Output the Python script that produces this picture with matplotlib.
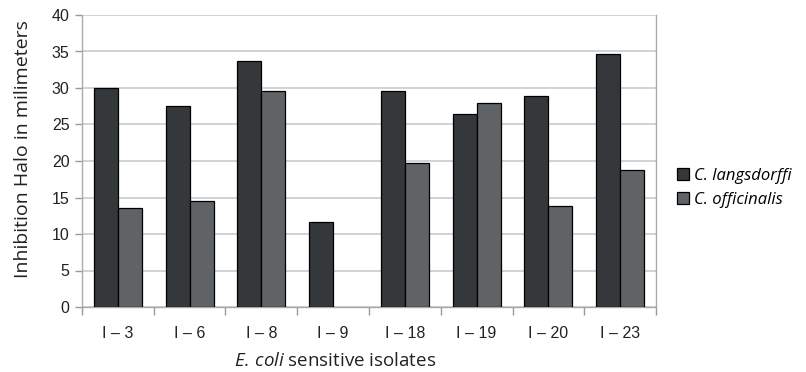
import matplotlib
matplotlib.use("Agg")
import matplotlib.pyplot as plt
import numpy as np

plt.rcParams["mathtext.fontset"] = "custom"
plt.rcParams["mathtext.rm"] = "Open Sans"
plt.rcParams["mathtext.it"] = "Open Sans:italic"

categories = ["I – 3", "I – 6", "I – 8", "I – 9", "I – 18", "I – 19", "I – 20", "I – 23"]
langsdorffi = [30.0, 27.5, 33.7, 11.6, 29.6, 26.4, 28.9, 34.7]
officinalis = [13.5, 14.5, 29.6, 0.0, 19.7, 27.9, 13.9, 18.7]
series_names = ["C. langsdorffi", "C. officinalis"]
yticks = [0, 5, 10, 15, 20, 25, 30, 35, 40]

W, H = 806, 372
fig = plt.figure(figsize=(W / 100, H / 100), dpi=100)
ax = fig.add_axes([82 / W, 1 - 307 / H, (656 - 82) / W, (307 - 15) / H])

x = np.arange(len(categories))
bw = 0.335
dark = "#35383a"
light = "#606365"
b1 = ax.bar(x - bw / 2, langsdorffi, bw, color=dark, edgecolor="black", linewidth=0.9, zorder=3, label=series_names[0])
b2 = ax.bar(x + bw / 2, officinalis, bw, color=light, edgecolor="black", linewidth=0.9, zorder=3, label=series_names[1])
for bars in (b1, b2):
    for r in bars:
        if r.get_height() == 0:
            r.set_linewidth(0)

ax.set_xlim(-0.5, len(categories) - 0.5)
ax.set_ylim(0, 40)
ax.set_yticks(yticks)
ax.set_yticklabels([str(v) for v in yticks], fontsize=11.5, color="#222222", family="Liberation Sans")
ax.set_xticks(x)
ax.set_xticklabels(categories, fontsize=11.5, color="#222222", family="Liberation Sans")
ax.set_xticks(np.arange(-0.5, len(categories) + 0.5, 1), minor=True)
ax.tick_params(axis="x", which="major", length=0, pad=14)
ax.tick_params(axis="x", which="minor", length=6, color="#999999", width=1)
ax.tick_params(axis="y", length=5, color="#999999", width=1, pad=4)

ax.grid(axis="y", color="#c4c6c8", linewidth=1.1, zorder=0)
for s in ["left", "bottom", "right", "top"]:
    ax.spines[s].set_color("#aaaaaa")
    ax.spines[s].set_linewidth(1.0)
ax.spines["top"].set_visible(False)

ax.set_ylabel("Inhibition Halo in milimeters", fontsize=14, family="Open Sans", color="#222222")
ax.yaxis.set_label_coords(-0.087, 0.541)
ax.set_xlabel(r"$\mathit{E.\,coli}$ sensitive isolates", fontsize=13.5, family="Open Sans", color="#222222")
ax.xaxis.set_label_coords(0.4417, -0.155)

leg = fig.legend(handles=[b1, b2], labels=series_names, loc="center left",
                 bbox_to_anchor=(664 / W, 1 - 188 / H), frameon=False, borderpad=0.3,
                 prop={"family": "Open Sans", "style": "italic", "size": 12},
                 handlelength=0.72, handleheight=0.72, handletextpad=0.25, labelspacing=0.45)

fig.savefig("out.png", dpi=100)
